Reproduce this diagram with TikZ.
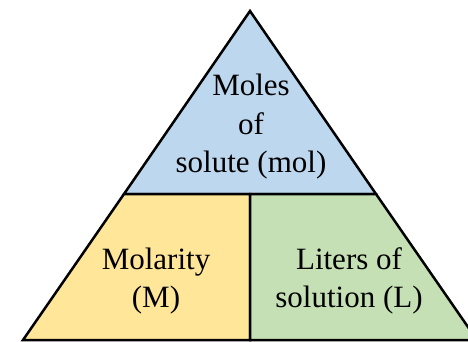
\documentclass[tikz,border=0pt]{standalone}
\usepackage{fontspec}
\setmainfont{Liberation Serif}
\definecolor{molblue}{RGB}{189,215,238}
\definecolor{molyellow}{RGB}{255,230,153}
\definecolor{molgreen}{RGB}{197,224,180}
\begin{document}
\begin{tikzpicture}[
    x=1pt, y=-1pt,
    part/.style={draw=black, line width=2.5pt, line join=miter},
    label/.style={align=center, inner sep=0pt,
        font=\fontsize{31}{38.5}\selectfont}
]
    \useasboundingbox (0,0) rectangle (468,341);
    \clip (0,0) rectangle (468,341);
    \coordinate (top) at (250,11);
    \coordinate (ml) at (124,194);
    \coordinate (mm) at (250,194);
    \coordinate (mr) at (376,194);
    \coordinate (bl) at (23,340);
    \coordinate (bm) at (250,340);
    \coordinate (br) at (477,340);
    % three parts of the triangle
    \filldraw[part, fill=molblue] (top) -- (mr) -- (ml) -- cycle;
    \filldraw[part, fill=molyellow] (ml) -- (mm) -- (bm) -- (bl) -- cycle;
    \filldraw[part, fill=molgreen] (mm) -- (mr) -- (br) -- (bm) -- cycle;
    \node[label] (moles) at (251,127) {Moles\\of\\solute (mol)};
    \node[label] (molarity) at (156,281) {Molarity\\(M)};
    \node[label] (liters) at (349,281) {Liters of\\solution (L)};
\end{tikzpicture}
\end{document}
